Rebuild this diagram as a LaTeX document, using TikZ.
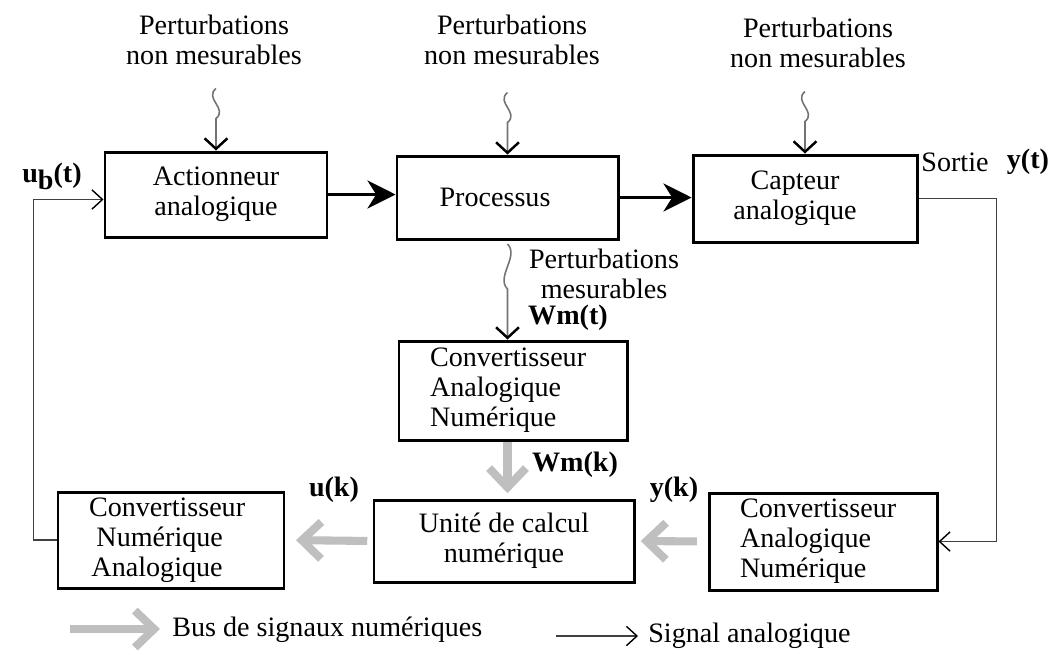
\documentclass[tikz,border=0pt]{standalone}
\usepackage{fontspec}
\setmainfont{Liberation Serif}
\usetikzlibrary{arrows.meta,calc}

\tikzset{
  block/.style={draw, line width=1.7pt, inner sep=0pt, align=center,
                font=\fontsize{16}{17}\selectfont},
  lblock/.style={block, align=left, inner xsep=31*0.02cm},
  txt/.style={inner sep=0pt, align=center, font=\fontsize{16}{17}\selectfont},
  btxt/.style={txt, font=\fontsize{16}{17}\selectfont\bfseries},
  flow/.style={line width=1.6pt, -{Stealth[length=16pt,width=16pt,inset=5pt]}},
  sig/.style={line width=0.8pt, black!75, -{Straight Barb[length=6pt,width=11pt,color=black]}},
  wavy/.style={line width=0.9pt, black!55, -{Straight Barb[length=6pt,width=13pt,color=black,line width=1.4pt]}},
  bus/.style={line width=4.6pt, black!25, -{Straight Barb[length=11pt,width=21pt]}},
}

\begin{document}
\begin{tikzpicture}[x=0.02cm, y=-0.02cm]
\useasboundingbox (0,0) rectangle (1058,654);

% disturbance captions
\node[txt] (p1) at (214,40) {Perturbations\\non mesurables};
\node[txt] (p2) at (512,40) {Perturbations\\non mesurables};
\node[txt] (p3) at (818,43) {Perturbations\\non mesurables};

% analogue chain
\node[block, minimum width=222*0.02cm, minimum height=85*0.02cm] (act) at (216,194.5) {Actionneur\\analogique};
\node[block, minimum width=221*0.02cm, minimum height=83*0.02cm] (proc) at (507.5,197.5) {\hspace*{-0.5cm}Processus};
\node[block, minimum width=224*0.02cm, minimum height=87*0.02cm] (capt) at (805,198.5) {\hspace*{-0.4cm}Capteur\\\hspace*{-0.4cm}analogique};

% converters and computing unit
\node[lblock, text width=166*0.02cm, minimum height=99*0.02cm] (canm) at (513,390.5) {Convertisseur\\Analogique\\Numérique};
\node[block, minimum width=260*0.02cm, minimum height=82*0.02cm] (calc) at (504,541) {Unité de calcul\\numérique};
\node[lblock, text width=166*0.02cm, minimum height=97*0.02cm] (canr) at (823,541.5) {Convertisseur\\Analogique\\Numérique};
\node[lblock, text width=164*0.02cm, minimum height=96*0.02cm] (cna) at (171,540) {Convertisseur\\\hspace*{0.15cm}Numérique\\\hspace*{0.05cm}Analogique};

% signal labels
\node[btxt] (ub) at (52,176) {u\raisebox{-4pt}{b}(t)};
\node[txt] (sortie) at (955,162) {Sortie};
\node[btxt] (yt) at (1028,162) {y(t)};
\node[txt] (pm) at (604,274) {Perturbations\\mesurables};
\node[btxt] (wmt) at (568,318) {Wm(t)};
\node[btxt] (wmk) at (575,465) {Wm(k)};
\node[btxt] (uk) at (334,490) {u(k)};
\node[btxt] (yk) at (674,490) {y(k)};

% main flow
\draw[flow] (act.east) -- (act.east -| proc.west);
\draw[flow] (proc.east) -- (proc.east -| capt.west);

% non-measurable disturbances
\foreach \b in {act,proc,capt}{
  \coordinate (w\b) at ([yshift=1.24cm]\b.north);
  \draw[wavy] (w\b) .. controls +(-12,10) and +(12,-10) .. ++(0,30) -- (\b.north);
}

% measurable disturbance
\coordinate (wm) at ([yshift=-2pt]proc.south);
\draw[wavy] (wm) .. controls +(12,12) and +(-12,-12) .. ++(0,45) -- (wm |- canm.north);

% analogue loops
\draw[sig] (capt.east) -- ++(78,0) |- (canr.east);
\draw[sig] (cna.west) -- ++(-23,0) |- ([yshift=-5*0.02cm]act.west);

% digital buses
\draw[bus, shorten >=3pt] (canm.south -| wm) -- (calc.north -| wm);
\draw[bus, shorten <=6pt, shorten >=3pt] (canr.west) -- (calc.east);
\draw[bus, shorten <=3pt, shorten >=6pt] (calc.west) -- (cna.east);

% legend
\coordinate (lb1) at (70,629);
\coordinate (lb2) at (160,629);
\node[txt, anchor=west] (lbus) at (172,630) {Bus de signaux numériques};
\draw[bus] (lb1) -- (lb2);
\coordinate (ls1) at (556,636);
\coordinate (ls2) at (638,636);
\node[txt, anchor=west] (lsig) at (648,636) {Signal analogique};
\draw[sig] (ls1) -- (ls2);
\end{tikzpicture}
\end{document}
